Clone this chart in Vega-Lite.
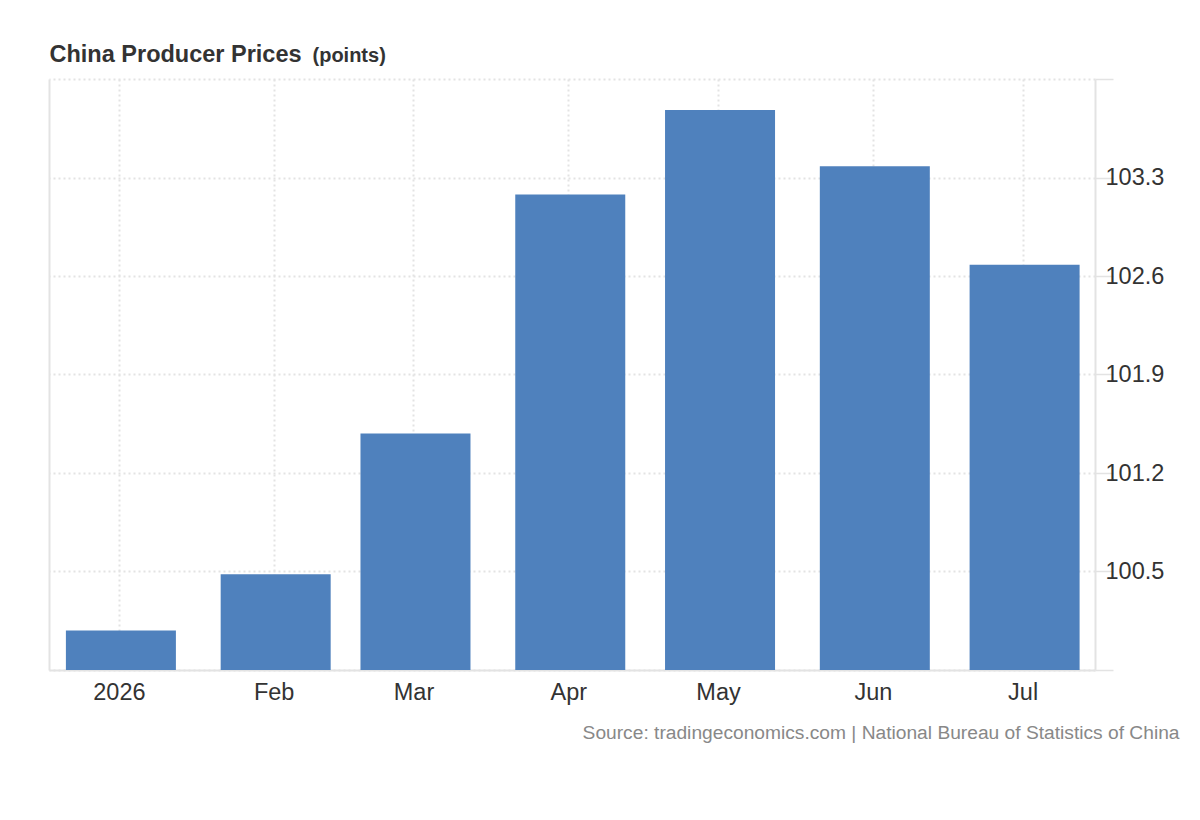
{
  "$schema": "https://vega.github.io/schema/vega-lite/v6.json",
  "autosize": "none",
  "width": 1046,
  "height": 591,
  "padding": {"left": 49, "top": 79, "right": 105, "bottom": 150},
  "background": "white",
  "config": {
    "view": {"stroke": null},
    "font": "Liberation Sans, Arial, sans-serif"
  },
  "data": {
    "values": [
      {"month": "2026-01-01", "value": 100.08},
      {"month": "2026-02-01", "value": 100.48},
      {"month": "2026-03-01", "value": 101.48},
      {"month": "2026-04-01", "value": 103.18},
      {"month": "2026-05-01", "value": 103.78},
      {"month": "2026-06-01", "value": 103.38},
      {"month": "2026-07-01", "value": 102.68}
    ]
  },
  "encoding": {
    "x": {
      "field": "month",
      "type": "temporal",
      "scale": {
        "type": "utc",
        "domain": [
          {"year": 2025, "month": 12, "date": 18, "utc": true},
          {"year": 2026, "month": 7, "date": 15, "hours": 12, "utc": true}
        ],
        "nice": false,
        "padding": 0
      },
      "axis": {
        "values": [
          {"year": 2026, "month": 1, "date": 1, "utc": true},
          {"year": 2026, "month": 2, "date": 1, "utc": true},
          {"year": 2026, "month": 3, "date": 1, "utc": true},
          {"year": 2026, "month": 4, "date": 1, "utc": true},
          {"year": 2026, "month": 5, "date": 1, "utc": true},
          {"year": 2026, "month": 6, "date": 1, "utc": true},
          {"year": 2026, "month": 7, "date": 1, "utc": true}
        ],
        "labelExpr": "utcFormat(datum.value, utcmonth(datum.value) == 0 ? '%Y' : '%b')",
        "labelFontSize": 23.5,
        "labelColor": "#333333",
        "labelPadding": 10,
        "ticks": false,
        "domainColor": "#e3e3e3",
        "domainWidth": 2,
        "grid": true,
        "gridColor": "#e3e3e3",
        "gridWidth": 2,
        "gridDash": [2, 3],
        "title": "Source: tradingeconomics.com | National Bureau of Statistics of China",
        "titleFontSize": 19.2,
        "titleFontWeight": "normal",
        "titleColor": "#888888",
        "titleAlign": "right",
        "titleBaseline": "alphabetic",
        "titleX": 1130,
        "titleY": 68
      }
    },
    "y": {
      "field": "value",
      "type": "quantitative",
      "scale": {"domain": [99.8, 104.0], "zero": false, "nice": false, "padding": 0}
    }
  },
  "layer": [
    {
      "mark": {"type": "bar", "width": 110, "xOffset": 2, "color": "#4f81bd", "clip": true},
      "encoding": {
        "y": {
          "field": "value",
          "type": "quantitative",
          "axis": {
            "orient": "right",
            "values": [99.8, 100.5, 101.2, 101.9, 102.6, 103.3, 104.0],
            "format": ".1f",
            "labelExpr": "datum.value < 100 || datum.value > 103.9 ? '' : datum.label",
            "labelFontSize": 23.5,
            "labelColor": "#333333",
            "labelPadding": -8,
            "tickSize": 18,
            "tickColor": "#e3e3e3",
            "tickWidth": 1.5,
            "domainColor": "#e3e3e3",
            "domainWidth": 2,
            "grid": true,
            "gridColor": "#e3e3e3",
            "gridWidth": 2,
            "gridDash": [2, 3],
            "title": "(points)",
            "titleFontSize": 20,
            "titleFontWeight": "bold",
            "titleColor": "#333333",
            "titleAngle": 0,
            "titleAlign": "left",
            "titleBaseline": "alphabetic",
            "titleX": -783,
            "titleY": -18
          }
        }
      }
    },
    {
      "mark": {"type": "bar", "width": 110, "xOffset": 2, "opacity": 0, "clip": true},
      "encoding": {
        "y": {
          "field": "value",
          "type": "quantitative",
          "axis": {
            "orient": "left",
            "labels": false,
            "ticks": false,
            "grid": false,
            "domainColor": "#e3e3e3",
            "domainWidth": 2,
            "title": "China Producer Prices",
            "titleFontSize": 23.5,
            "titleFontWeight": "bold",
            "titleColor": "#333333",
            "titleAngle": 0,
            "titleAlign": "left",
            "titleBaseline": "alphabetic",
            "titleX": 0,
            "titleY": -18
          }
        }
      }
    }
  ],
  "resolve": {"axis": {"y": "independent"}}
}
